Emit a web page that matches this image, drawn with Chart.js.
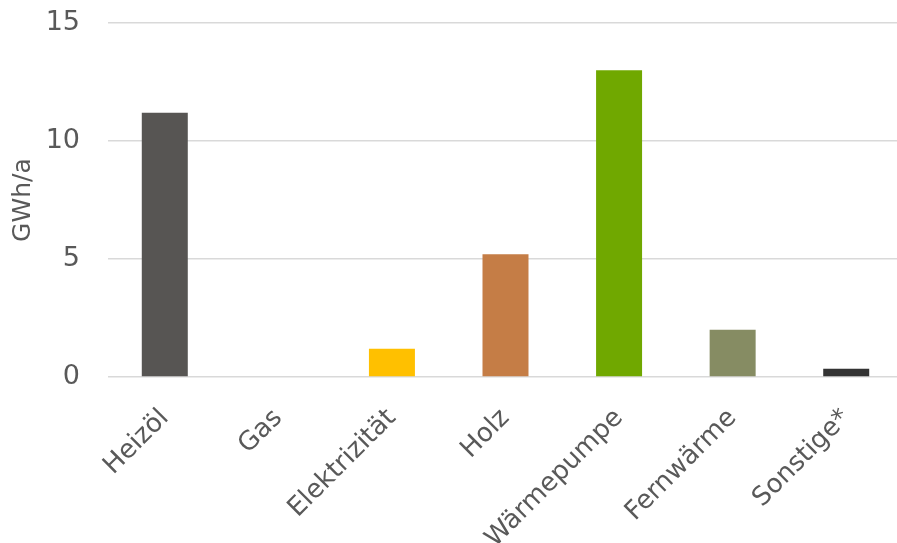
<!DOCTYPE html>
<html>
<head>
<meta charset="utf-8">
<script src="https://cdn.jsdelivr.net/npm/chart.js@4/dist/chart.umd.min.js"></script>
<style>
html,body{margin:0;padding:0;background:#fff;overflow:hidden;}
#wrap{width:897px;height:543px;overflow:hidden;position:relative;}
#box{width:906px;height:564px;position:absolute;left:0;top:-21px;}
</style>
</head>
<body>
<div id="wrap"><div id="box"><canvas id="c"></canvas></div></div>
<script>
const categories = ["Heizöl", "Gas", "Elektrizität", "Holz", "Wärmepumpe", "Fernwärme", "Sonstige*"];
const values = [11.2, 0, 1.2, 5.2, 13.0, 2.0, 0.35];
const barColors = ["#575553", "#9a9a9a", "#FFC000", "#C57D46", "#70A800", "#868C63", "#333333"];
const yTicks = [0, 5, 10, 15];
const yTitle = "GWh/a";

const FONT = "'DejaVu Sans', Verdana, sans-serif";
const TXT = "#595959";

new Chart(document.getElementById('c'), {
  type: 'bar',
  data: {
    labels: categories,
    datasets: [{
      data: values,
      backgroundColor: barColors,
      borderWidth: 0,
      barPercentage: 0.405,
      categoryPercentage: 1.0
    }]
  },
  options: {
    responsive: true,
    maintainAspectRatio: false,
    animation: false,
    layout: { padding: { top: 0, right: 3, left: 0, bottom: 0 } },
    plugins: { legend: { display: false }, tooltip: { enabled: false } },
    scales: {
      x: {
        grid: { display: false, drawTicks: false },
        border: { display: false },
        ticks: {
          color: TXT,
          font: { family: FONT, size: 26 },
          maxRotation: 45, minRotation: 45,
          padding: 26,
          autoSkip: false
        },
        afterFit: (s) => { s.height = 166; }
      },
      y: {
        min: 0, max: 15,
        afterBuildTicks: (s) => { s.ticks = yTicks.map(v => ({ value: v })); },
        grid: { color: "#d9d9d9", lineWidth: 1.5, drawTicks: false },
        border: { display: false },
        ticks: {
          color: TXT,
          font: { family: FONT, size: 27 },
          padding: 28
        },
        title: {
          display: true,
          text: yTitle,
          color: TXT,
          font: { family: FONT, size: 25 },
          padding: { top: 8, bottom: 0 }
        },
        afterFit: (s) => { s.width = 108; }
      }
    }
  }
});
</script>
</body>
</html>
